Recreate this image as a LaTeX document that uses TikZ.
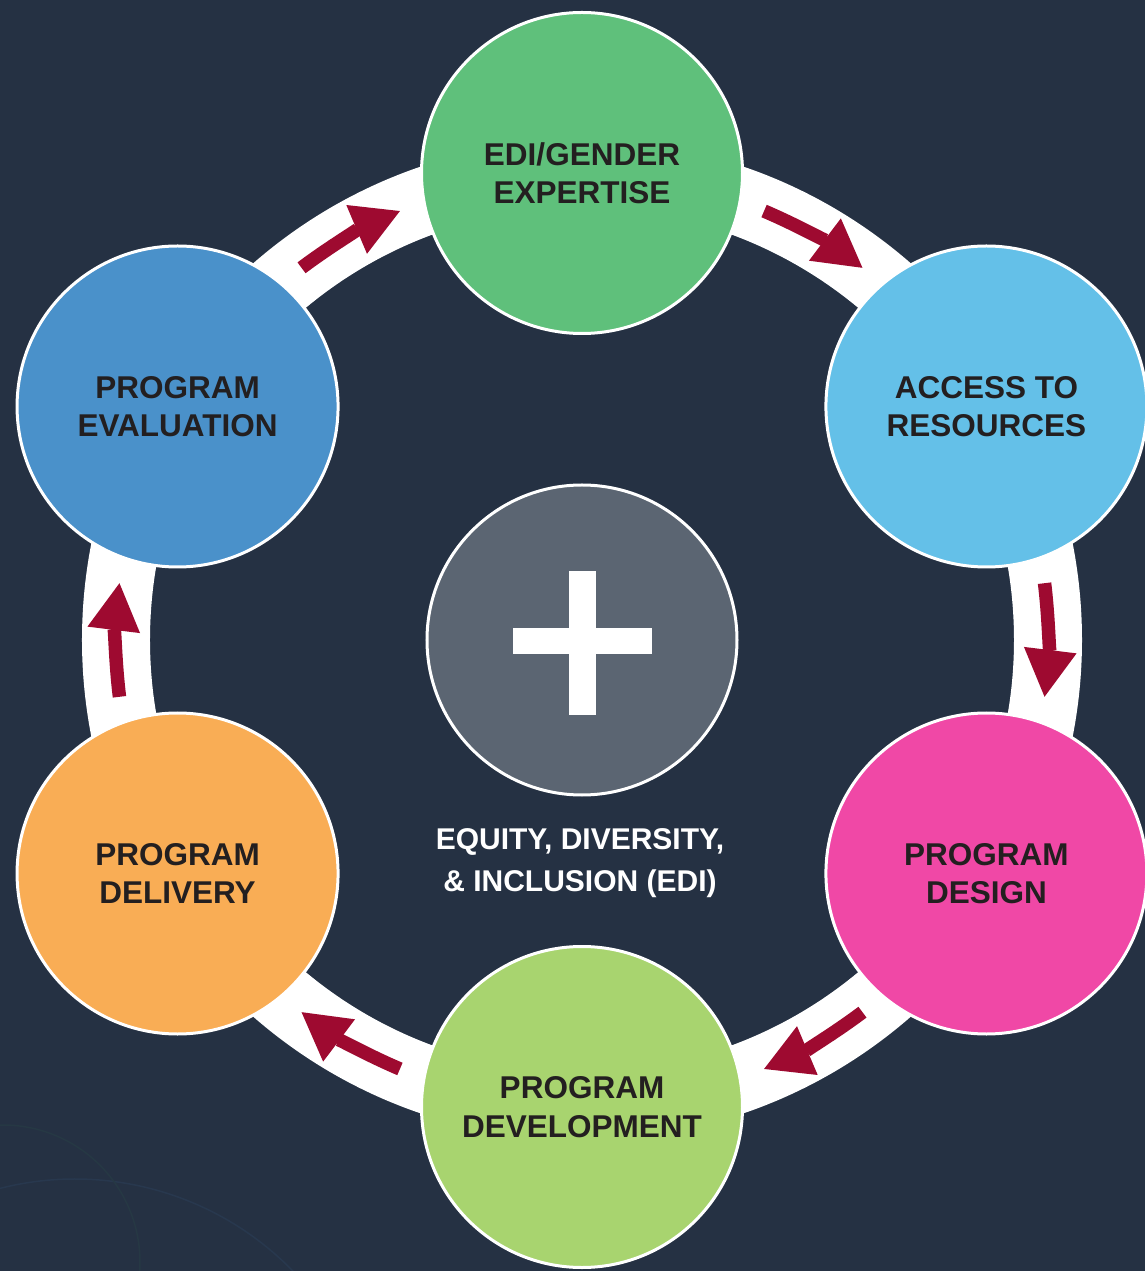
\documentclass[tikz,border=0pt]{standalone}
\usepackage{fontspec}
\setmainfont{Liberation Sans}
\usetikzlibrary{arrows.meta,calc}
\definecolor{navybg}{RGB}{37,49,67}
\definecolor{arrowred}{RGB}{158,10,48}
\definecolor{stageink}{RGB}{35,31,32}
\definecolor{hubgray}{RGB}{91,101,114}
\definecolor{edigreen}{RGB}{95,192,123}
\definecolor{accessblue}{RGB}{100,192,232}
\definecolor{designpink}{RGB}{240,72,166}
\definecolor{devgreen}{RGB}{168,212,111}
\definecolor{deliveryorange}{RGB}{249,173,85}
\definecolor{evalblue}{RGB}{74,145,202}
\definecolor{glintblue}{RGB}{40,56,78}
\definecolor{glintteal}{RGB}{38,56,68}

\begin{document}
\begin{tikzpicture}[
  x=1pt,
  y=1pt,
  ring band/.style={
    draw=white,
    line width=68pt
  },
  flow arrow/.style={
    draw=arrowred,
    line width=13.5pt,
    -{Triangle[length=47pt,width=53pt,line width=0pt]}
  },
  stage/.style={
    circle,
    draw=white,
    line width=3pt,
    minimum size=321pt,
    inner sep=0pt,
    align=center,
    text=stageink,
    font=\fontsize{31.5}{38.5}\selectfont\bfseries
  },
  hub disc/.style={
    circle,
    draw=white,
    line width=3pt,
    fill=hubgray,
    minimum size=310pt,
    inner sep=0pt
  },
  hub label/.style={
    align=center,
    text=white,
    inner sep=0pt,
    anchor=north,
    font=\fontsize{30}{42}\selectfont\bfseries
  },
  glint/.style={line width=1.5pt}
]

\def\ringr{466}
\def\stager{467}

% Page and background.
\useasboundingbox (-582,-631) rectangle (563,640);
\fill[navybg] (-582,-631) rectangle (563,640);

% Faint arcs in the lower left corner.
\draw[glint, draw=glintblue] (-507,-843) ++(110:304) arc[start angle=110, end angle=40, radius=304];
\draw[glint, draw=glintteal] (-579,-622) ++(95:137) arc[start angle=95, end angle=-10, radius=137];

% The white ring that carries the cycle.
\coordinate (ring-center) at (0,0);
\draw[ring band] (ring-center) circle[radius=\ringr];

% Clockwise arrows, one between each pair of stages.
\foreach \midang in {60,0,-60,-120,180,120}{
  \draw[flow arrow] (\midang+7:\ringr)
    arc[start angle=\midang+7, end angle=\midang-7, radius=\ringr];
}

% The six stages.
\node[stage, fill=edigreen] (expertise) at (90:\stager) {EDI/GENDER\\EXPERTISE};
\node[stage, fill=accessblue] (access) at (30:\stager) {ACCESS TO\\RESOURCES};
\node[stage, fill=designpink] (design) at (-30:\stager) {PROGRAM\\DESIGN};
\node[stage, fill=devgreen] (development) at (-90:\stager) {PROGRAM\\DEVELOPMENT};
\node[stage, fill=deliveryorange] (delivery) at (-150:\stager) {PROGRAM\\DELIVERY};
\node[stage, fill=evalblue] (evaluation) at (150:\stager) {PROGRAM\\EVALUATION};

% Hub with the plus sign.
\node[hub disc] (hub) at (ring-center) {};
\fill[white] (-69,-14) rectangle (70,12);
\fill[white] (-13,-75) rectangle (14,69);

\node[hub label] (edi) at (-2,-188) {EQUITY, DIVERSITY,\\\& INCLUSION (EDI)};

\end{tikzpicture}
\end{document}
